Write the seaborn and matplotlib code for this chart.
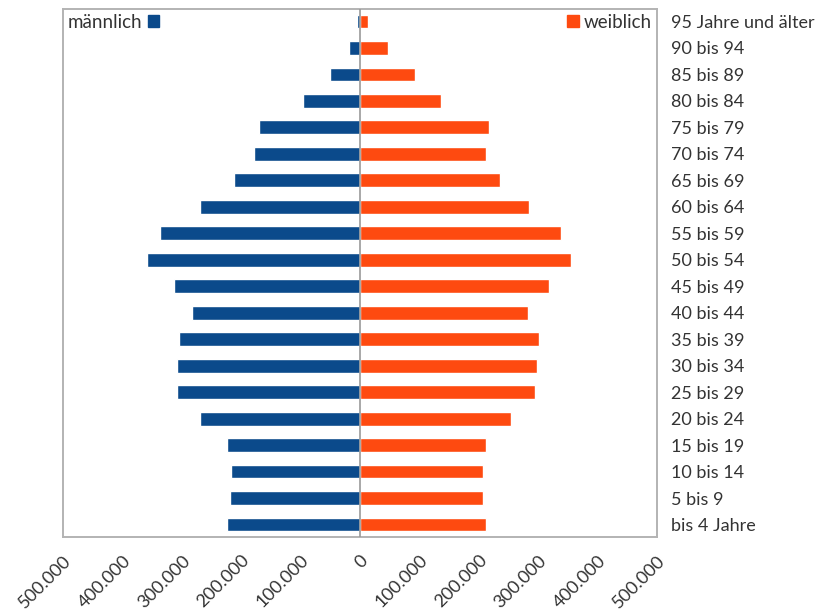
import matplotlib
matplotlib.use("Agg")
import matplotlib.pyplot as plt
from matplotlib.ticker import FuncFormatter, MultipleLocator
from matplotlib.patches import Patch
import seaborn as sns
import pandas as pd

# Altersgruppen (von oben nach unten)
age_groups = [
    "95 Jahre und älter", "90 bis 94", "85 bis 89", "80 bis 84", "75 bis 79",
    "70 bis 74", "65 bis 69", "60 bis 64", "55 bis 59", "50 bis 54",
    "45 bis 49", "40 bis 44", "35 bis 39", "30 bis 34", "25 bis 29",
    "20 bis 24", "15 bis 19", "10 bis 14", "5 bis 9", "bis 4 Jahre",
]
maennlich = [
    5000, 18500, 50500, 96000, 170000,
    178000, 212000, 269000, 337000, 359000,
    313000, 283000, 305000, 308000, 308000,
    269000, 224000, 217000, 219000, 224000,
]
weiblich = [
    14000, 47000, 93000, 137000, 218000,
    212000, 236000, 284000, 338000, 356000,
    318000, 283000, 301000, 298000, 295000,
    254000, 212000, 207000, 207000, 212000,
]

BLUE = "#0b4a8b"
ORANGE = "#fe4a10"
GREY = "#b3b3b3"
TEXT = "#333333"

sns.set_theme(style="white")
plt.rcParams["font.family"] = ["Lato", "DejaVu Sans"]

df = pd.DataFrame({
    "Alter": age_groups,
    "männlich": [-v for v in maennlich],
    "weiblich": weiblich,
})

fig = plt.figure(figsize=(8.27, 6.14), dpi=100)
ax = fig.add_axes([63 / 827, 1 - 537 / 614, (657 - 63) / 827, (537 - 9) / 614])

sns.barplot(data=df, x="männlich", y="Alter", order=age_groups, color=BLUE,
            width=0.52, orient="h", ax=ax, saturation=1)
sns.barplot(data=df, x="weiblich", y="Alter", order=age_groups, color=ORANGE,
            width=0.52, orient="h", ax=ax, saturation=1)

ax.set_xlim(-500000, 500000)
ax.set_ylim(19.47, -0.47)
ax.axvline(0, color="#999999", lw=1.2, zorder=3)

ax.xaxis.set_major_locator(MultipleLocator(100000))
ax.xaxis.set_major_formatter(
    FuncFormatter(lambda v, _: f"{abs(int(round(v))):,}".replace(",", ".")))
ax.tick_params(axis="x", direction="out", length=7, width=1.2, color=GREY,
               labelsize=13, labelcolor=TEXT, pad=4)
for lbl in ax.get_xticklabels():
    lbl.set_rotation(45)
    lbl.set_ha("right")
    lbl.set_rotation_mode("anchor")

ax.yaxis.tick_right()
ax.tick_params(axis="y", length=0, labelsize=13, labelcolor=TEXT, pad=10)
ax.set_xlabel("")
ax.set_ylabel("")

for s in ax.spines.values():
    s.set_color(GREY)
    s.set_linewidth(1.4)

leg_m = ax.legend(handles=[Patch(color=BLUE, label="männlich")], loc="upper left",
                  markerfirst=False, frameon=False, fontsize=13.5, handlelength=0.6,
                  handleheight=0.6, handletextpad=0.3, borderaxespad=0.0,
                  borderpad=0.25, labelcolor=TEXT)
ax.add_artist(leg_m)
ax.legend(handles=[Patch(color=ORANGE, label="weiblich")], loc="upper right",
          frameon=False, fontsize=13.5, handlelength=0.6, handleheight=0.6,
          handletextpad=0.3, borderaxespad=0.0, borderpad=0.25, labelcolor=TEXT)

fig.savefig("out.png", dpi=100)
